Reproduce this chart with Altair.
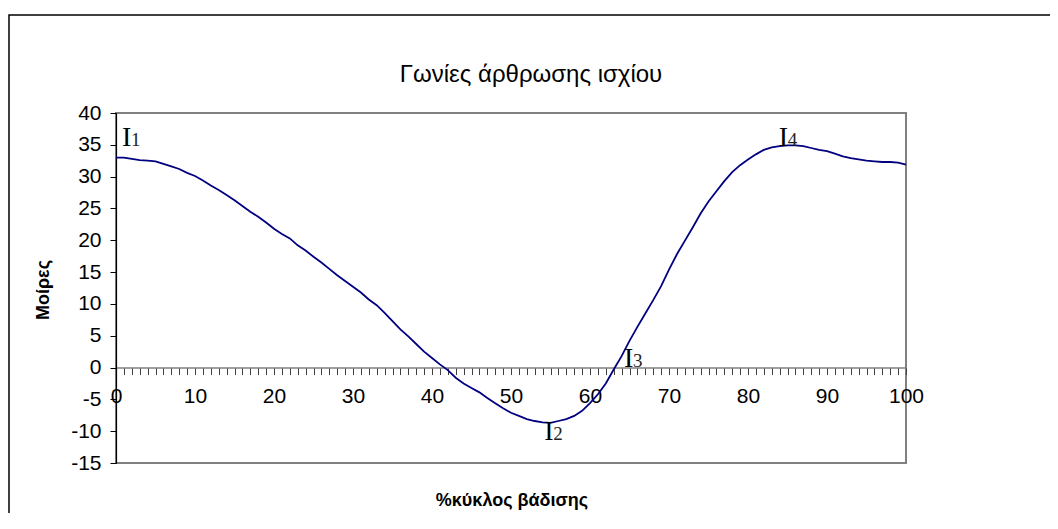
import altair as alt
import pandas as pd

# % gait cycle (0..100) and hip angle in degrees
pct = list(range(0, 101))
deg = [33.0, 33.0, 32.8, 32.6, 32.5, 32.4, 32.0, 31.6, 31.2, 30.6,
       30.1, 29.4, 28.6, 27.9, 27.1, 26.3, 25.4, 24.5, 23.7, 22.8,
       21.8, 21.0, 20.3, 19.2, 18.4, 17.4, 16.5, 15.5, 14.5, 13.6,
       12.7, 11.8, 10.7, 9.8, 8.6, 7.3, 6.0, 4.9, 3.7, 2.5,
       1.5, 0.5, -0.4, -1.6, -2.5, -3.2, -3.9, -4.8, -5.6, -6.4,
       -7.1, -7.6, -8.1, -8.4, -8.6, -8.7, -8.4, -8.1, -7.6, -6.8,
       -5.6, -4.2, -2.5, -0.3, 1.8, 4.2, 6.4, 8.5, 10.6, 12.8,
       15.4, 17.8, 19.9, 22.0, 24.2, 26.1, 27.7, 29.3, 30.7, 31.8,
       32.7, 33.5, 34.2, 34.6, 34.8, 34.9, 34.9, 34.8, 34.5, 34.2,
       34.0, 33.6, 33.2, 32.9, 32.7, 32.5, 32.4, 32.3, 32.3, 32.2, 31.9]

# point labels I1..I4
ann_x = [0.76, 54.2, 64.3, 83.9]
ann_y = [34.8, -11.4, 0.08, 34.8]
ann_main = ["I", "I", "I", "I"]
ann_sub = ["1", "2", "3", "4"]

title_text = "Γωνίες άρθρωσης ισχίου"
x_title = "%κύκλος βάδισης"
y_title = "Μοίρες"

x_ticks = list(range(0, 101))
y_ticks = list(range(-15, 41, 5))

W, H = 790, 350
Y_MIN, Y_MAX = -15, 40
zero_offset = -H * (0 - Y_MIN) / (Y_MAX - Y_MIN)

df = pd.DataFrame({"pct": pct, "deg": deg})
ann = pd.DataFrame({"pct": ann_x, "deg": ann_y, "m": ann_main, "s": ann_sub})

FONT = "Liberation Sans"
SERIF = "Liberation Serif"

xscale = alt.Scale(domain=[0, 100], nice=False, zero=False)
yscale = alt.Scale(domain=[Y_MIN, Y_MAX], nice=False)

xaxis = alt.Axis(values=x_ticks, title=None, offset=zero_offset,
                 labelExpr="datum.value % 10 == 0 ? toString(datum.value) : ''",
                 tickSize=7, tickColor="#404040", domainColor="#808080",
                 domainWidth=1.5, labelFont=FONT, labelFontSize=21,
                 labelColor="#000", labelPadding=11, labelFlush=False,
                 labelOverlap=False, labelBound=False, grid=False)
yaxis = alt.Axis(values=y_ticks, title=None, tickSize=6, tickColor="#000",
                 labelExpr="toString(datum.value)",
                 domainColor="#000", domainWidth=1.2, labelFont=FONT,
                 labelFontSize=21, labelColor="#000", labelPadding=9,
                 labelOverlap=False, labelBound=False, grid=False)

X = alt.X("pct:Q", scale=xscale, axis=xaxis)
Y = alt.Y("deg:Q", scale=yscale, axis=yaxis)

line = alt.Chart(df).mark_line(color="#000080", strokeWidth=1.8).encode(x=X, y=Y)

i_main = alt.Chart(ann).mark_text(font=SERIF, fontSize=28, align="left",
                                  baseline="alphabetic", color="#000").encode(
    x=X, y=Y, text="m:N")
i_sub = alt.Chart(ann).mark_text(font=SERIF, fontSize=19, align="left",
                                 baseline="alphabetic", dx=9, color="#222").encode(
    x=X, y=Y, text="s:N")

one = pd.DataFrame({"t": [title_text], "xt": [x_title], "yt": [y_title]})

title_mark = alt.Chart(one).mark_text(font=FONT, fontSize=24, align="center",
                                      baseline="middle", color="#000").encode(
    x=alt.value(415), y=alt.value(-38), text="t:N")
xtitle_mark = alt.Chart(one).mark_text(font=FONT, fontSize=18, fontWeight="bold",
                                       align="center", baseline="middle", color="#000").encode(
    x=alt.value(396), y=alt.value(388), text="xt:N")
ytitle_mark = alt.Chart(one).mark_text(font=FONT, fontSize=18, fontWeight="bold",
                                       align="center", baseline="middle", angle=270,
                                       color="#000").encode(
    x=alt.value(-72), y=alt.value(177), text="yt:N")

frame = alt.Chart(one).mark_rect(fill=None, stroke="#000", strokeWidth=1.5).encode(
    x=alt.value(-107), y=alt.value(-98), x2=alt.value(1000), y2=alt.value(600))

chart = alt.layer(line, i_main, i_sub, title_mark, xtitle_mark, ytitle_mark, frame).properties(
    width=W, height=H,
    padding={"left": 108, "top": 105, "right": 144, "bottom": 50},
    autosize=alt.AutoSizeParams(type="none"),
    background="#ffffff",
).configure_view(stroke="#808080", strokeWidth=2)

chart.save("out.html", embed_options={"renderer": "svg", "actions": False})
